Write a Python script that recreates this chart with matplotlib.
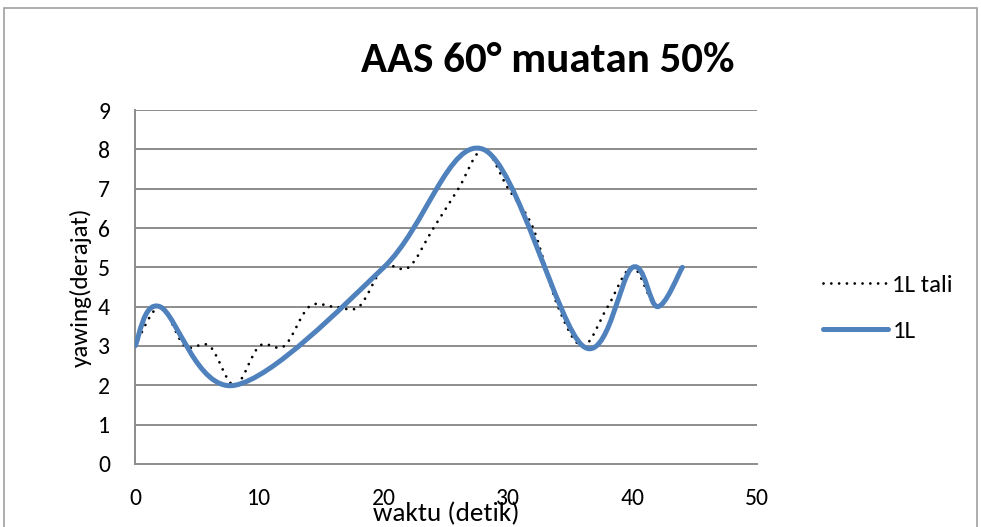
import matplotlib
matplotlib.use('Agg')
import matplotlib.pyplot as plt
import numpy as np
from matplotlib.path import Path
from matplotlib.patches import PathPatch, Rectangle
from matplotlib.lines import Line2D

plt.rcParams['font.family'] = ['Carlito', 'Lato', 'DejaVu Sans']

# data
t_tali = [0, 2, 4, 6, 8, 10, 12, 14, 16, 18, 20, 22, 24, 26, 28, 30, 32, 34, 36, 38, 40, 42, 44]
yaw_tali = [3, 4, 3, 3, 2, 3, 3, 4, 4, 4, 5, 5, 6, 7, 8, 7, 6, 4, 3, 4, 5, 4, 5]
t_1l = [0, 2, 8, 20, 28, 36, 40, 42, 44]
yaw_1l = [3, 4, 2, 5, 8, 3, 5, 4, 5]

xticks = [0, 10, 20, 30, 40, 50]
yticks = list(range(10))

grid_col = '#8c8c8c'
blue = '#4f81bd'
dots = (0, (0.01, 2.8))


def smooth_path(x, y):
    # excel style smoothed line as cubic bezier segments
    pts = np.column_stack([x, y]).astype(float)
    n = len(pts)
    verts = [pts[0]]
    codes = [Path.MOVETO]
    for i in range(n - 1):
        p0 = pts[i - 1] if i > 0 else pts[i]
        p1 = pts[i]
        p2 = pts[i + 1]
        p3 = pts[i + 2] if i + 2 < n else pts[i + 1]
        c1 = p1 + (p2 - p0) / 6
        c2 = p2 - (p3 - p1) / 6
        verts += [c1, c2, p2]
        codes += [Path.CURVE4] * 3
    return Path(verts, codes)


fig = plt.figure(figsize=(9.81, 5.27), dpi=100)
ax = fig.add_axes([135 / 981, 1 - 464 / 527, 622 / 981, 354 / 527])

# chart border
fig.patches.append(Rectangle((4 / 981, -0.1), 973 / 981, 1.1 - 8 / 527,
                             transform=fig.transFigure, fill=False,
                             edgecolor='#a0a0a0', linewidth=1.2))

ax.set_xlim(0, 50)
ax.set_ylim(0, 9)
ax.set_xticks(xticks)
ax.set_yticks(yticks)
for y in yticks[1:]:
    ax.axhline(y, color=grid_col, linewidth=1.4, zorder=1)

for s in ['top', 'right']:
    ax.spines[s].set_visible(False)
for s in ['left', 'bottom']:
    ax.spines[s].set_color(grid_col)
    ax.spines[s].set_linewidth(1.4)
ax.tick_params(length=0, labelsize=17)
ax.tick_params(axis='y', pad=18)
ax.tick_params(axis='x', pad=17)

p1 = PathPatch(smooth_path(t_tali, yaw_tali), fill=False, edgecolor='black',
               linewidth=2.0, linestyle=dots, capstyle='round', zorder=3)
ax.add_patch(p1)
p2 = PathPatch(smooth_path(t_1l, yaw_1l), fill=False, edgecolor=blue,
               linewidth=3.6, capstyle='round', zorder=4)
ax.add_patch(p2)

ax.set_ylabel('yawing(derajat)', fontsize=18, labelpad=4)
ax.set_xlabel('waktu (detik)', fontsize=19.5, labelpad=-5)

fig.text(548 / 981, 1 - 60 / 527, 'AAS 60° muatan 50%', fontsize=31,
         fontweight='bold', ha='center', va='center')

h1 = Line2D([], [], color='black', linewidth=2.0, linestyle=dots,
            dash_capstyle='round')
h2 = Line2D([], [], color=blue, linewidth=3.6, solid_capstyle='round')
fig.legend([h1, h2], ['1L tali', '1L'], loc='center left',
           bbox_to_anchor=(800 / 981, 1 - 308 / 527), frameon=False,
           fontsize=18, handlelength=2.6, labelspacing=1.0, handletextpad=0.2)

fig.savefig('out.png', dpi=100)
